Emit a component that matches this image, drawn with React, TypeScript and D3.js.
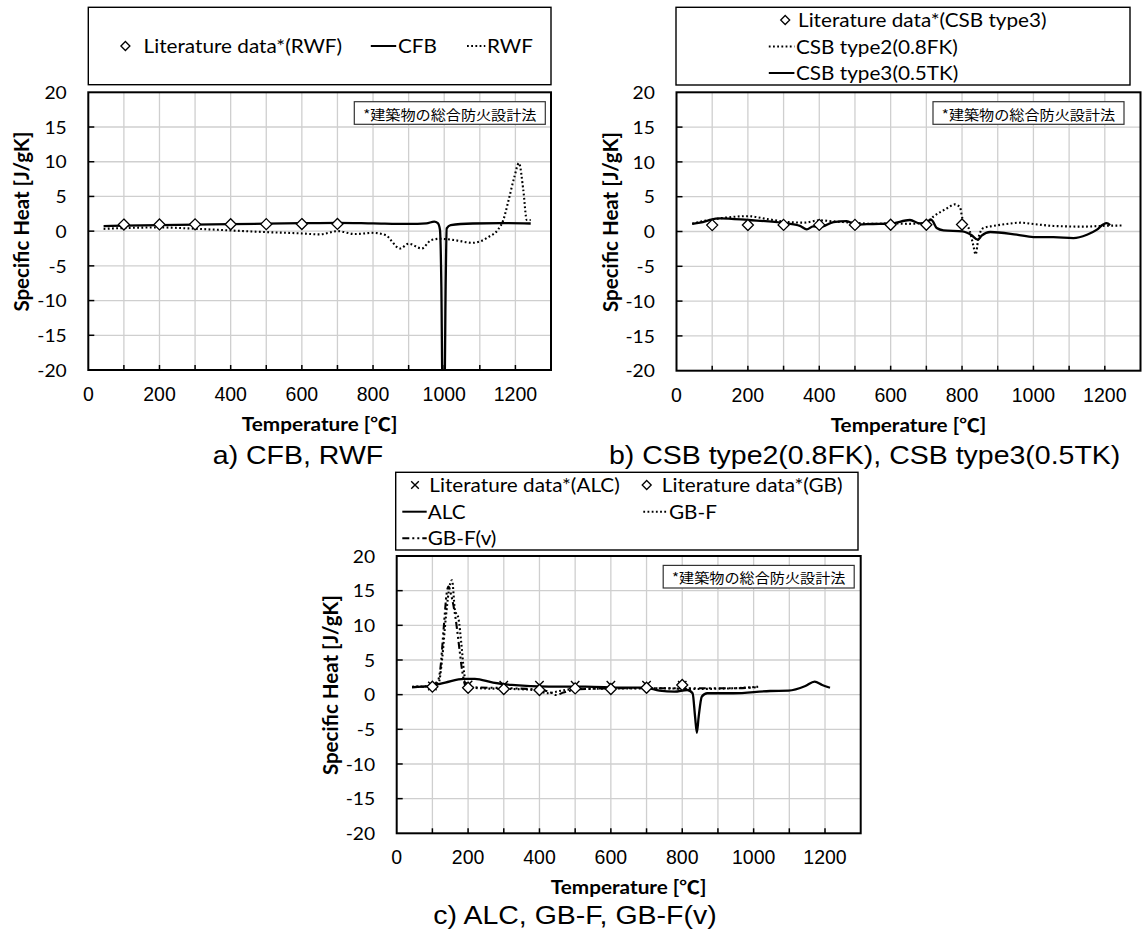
import { useRef, useEffect } from "react";
import * as d3 from "d3";

// ---- data ----
const xTickLabels = [0, 200, 400, 600, 800, 1000, 1200];
const yTickLabels = [20, 15, 10, 5, 0, -5, -10, -15, -20];

// a) CFB, RWF
const litRwfT = [100, 200, 300, 400, 500, 600, 700];
const litRwfCp = [0.95, 0.97, 0.98, 1.0, 1.01, 1.02, 1.04];
const cfb: [number, number][] = [
  [43, 0.73], [100, 0.8], [200, 0.88], [300, 0.95], [400, 1.0], [500, 1.08], [600, 1.15],
  [700, 1.2], [800, 1.12], [900, 1.04], [950, 1.12], [972, 1.37], [982, 1.15], [988, 0.2],
  [992, -8], [995, -22], [1001, -22], [1004, -8], [1007, 0.4], [1018, 0.87], [1080, 1.1],
  [1160, 1.15], [1243, 1.1],
];
const rwf: [number, number][] = [
  [43, 0.33], [100, 0.45], [200, 0.53], [300, 0.35], [400, 0.1], [500, -0.14], [600, -0.33],
  [650, -0.47], [700, 0.0], [750, -0.42], [800, -0.24], [835, -0.57], [876, -2.5], [900, -1.8],
  [937, -2.5], [963, -1.3], [988, -1.1], [1030, -1.3], [1079, -1.68], [1100, -1.5], [1125, -0.82],
  [1150, 0.14], [1166, 1.6], [1181, 4.5], [1197, 7.8], [1210, 9.8], [1222, 6.0], [1232, 1.6],
  [1243, 1.6],
];

// b) CSB type2, CSB type3
const litCsbT = [100, 200, 300, 400, 500, 600, 700, 800];
const litCsbCp = [0.92, 0.93, 0.95, 0.95, 0.95, 0.97, 0.97, 1.0];
const csb2: [number, number][] = [
  [44, 1.1], [66, 1.4], [122, 1.9], [201, 2.2], [253, 1.8], [302, 1.42], [356, 1.27], [401, 1.6],
  [440, 1.45], [500, 1.25], [550, 1.1], [600, 1.17], [650, 1.1], [701, 1.27], [719, 2.1],
  [757, 3.3], [780, 3.9], [794, 3.5], [801, 1.9], [822, 0.02], [832, -2.1], [838, -3.3],
  [846, -0.94], [860, 0.5], [888, 0.8], [925, 1.08], [963, 1.27], [1000, 1.08], [1056, 0.8],
  [1140, 0.7], [1187, 0.8], [1252, 0.86],
];
const csb3: [number, number][] = [
  [44, 1.08], [66, 1.27], [110, 1.85], [122, 1.9], [201, 1.65], [302, 1.2], [346, 0.8],
  [365, 0.3], [383, 0.75], [402, 0.65], [440, 1.35], [477, 1.5], [500, 1.0], [551, 1.08],
  [600, 1.15], [654, 1.65], [682, 1.17], [701, 1.3], [712, 1.75], [719, 1.4], [729, 0.5],
  [748, 0.17], [801, 0.02], [826, -0.5], [844, -1.17], [855, -0.6], [879, -0.07], [953, -0.46],
  [1000, -0.8], [1056, -0.8], [1112, -0.94], [1150, -0.46], [1178, 0.26], [1195, 1.0],
  [1205, 1.2], [1215, 0.9],
];

// c) ALC, GB-F, GB-F(v)
const litAlcT = [100, 200, 300, 400, 500, 600, 700, 800];
const litAlcCp = [1.25, 1.4, 1.35, 1.35, 1.35, 1.35, 1.35, 1.35];
const litGbT = [100, 200, 300, 400, 500, 600, 700, 800];
const litGbCp = [1.15, 1.0, 0.82, 0.67, 0.9, 0.82, 1.0, 1.4];
const alc: [number, number][] = [
  [43, 1.06], [95, 1.25], [136, 1.73], [188, 2.27], [219, 2.27], [270, 1.73], [322, 1.4],
  [426, 1.15], [529, 1.15], [633, 1.0], [695, 1.0], [736, 0.58], [778, 0.43], [814, 0.67],
  [829, 0.2], [836, -3.2], [841, -5.5], [846, -3.2], [855, -0.28], [870, 0.2], [943, 0.2],
  [1046, 0.53], [1098, 0.58], [1145, 1.25], [1171, 1.88], [1192, 1.4], [1214, 1.0],
];
const gbf: [number, number][] = [
  [43, 1.15], [95, 1.25], [117, 1.6], [127, 5], [138, 11.3], [148, 15.6], [155, 16.5],
  [163, 12.3], [173, 11], [181, 7.4], [189, 3.1], [199, 1.2], [240, 0.9], [322, 0.82],
  [384, 0.67], [426, 0.2], [447, 0.43], [488, 0.77], [592, 0.87], [736, 0.92], [840, 0.82],
  [943, 0.92], [1016, 1.15],
];
const gbfv: [number, number][] = [
  [43, 1.1], [95, 1.2], [112, 1.6], [122, 3.6], [132, 9.8], [140, 14.6], [145, 15.6],
  [152, 14.5], [165, 11], [176, 6.5], [183, 3.6], [194, 1.2], [219, 1.06], [322, 0.92],
  [405, 0.67], [426, 0.43], [447, -0.05], [467, 0.3], [509, 0.77], [633, 0.92], [736, 0.92],
  [840, 0.92], [943, 0.92], [1006, 1.06],
];

const NOTE = "*建築物の総合防火設計法";

// ---- styles ----
const SANS = "Lato, 'Noto Sans CJK JP', sans-serif";
const ARIAL = "'Liberation Sans', Arial, sans-serif";
const CJK = "'Noto Sans CJK JP', 'Noto Sans CJK SC', sans-serif";
const SX = 1.12; // the reference is stretched horizontally

const DASH: Record<string, string | null> = {
  solid: null,
  dot: "1.8 2.4",
  dashdotdot: "7 3 2 3 2 3",
};

type G = d3.Selection<SVGGElement, unknown, null, undefined>;

function txt(g: G, s: string, x: number, y: number, o: {
  size: number; font?: string; weight?: string; anchor?: string; sx?: number; rot?: number;
}) {
  g.append("text")
    .attr("transform", `translate(${x},${y}) rotate(${o.rot ?? 0}) scale(${o.sx ?? 1},1)`)
    .attr("text-anchor", o.anchor ?? "start")
    .attr("dominant-baseline", "central")
    .attr("font-family", o.font ?? SANS)
    .attr("font-size", o.size)
    .attr("font-weight", o.weight ?? "normal")
    .attr("fill", "#000")
    .text(s);
}

function marker(g: G, kind: string, x: number, y: number, r: number) {
  if (kind === "diamond") {
    g.append("path")
      .attr("d", `M${x},${y - r}L${x + r},${y}L${x},${y + r}L${x - r},${y}Z`)
      .attr("fill", "#fff").attr("stroke", "#000").attr("stroke-width", 1.3);
  } else {
    g.append("path")
      .attr("d", `M${x - r},${y - r}L${x + r},${y + r}M${x - r},${y + r}L${x + r},${y - r}`)
      .attr("fill", "none").attr("stroke", "#000").attr("stroke-width", 1.4);
  }
}

function legendLine(g: G, style: string, x1: number, x2: number, y: number) {
  const l = g.append("line").attr("x1", x1).attr("x2", x2).attr("y1", y).attr("y2", y)
    .attr("stroke", "#000").attr("stroke-width", 2);
  if (DASH[style]) l.attr("stroke-dasharray", DASH[style] as string);
}

interface Panel {
  id: string;
  left: number; top: number; width: number; height: number;
  caption: string; captionX: number; captionDy: number;
  noteRight: number;
  legend: { x: number; y: number; w: number; h: number };
  legendItems: { kind: string; style: string; x: number; x2?: number; y: number; tx: number; label: string }[];
  lines: { data: [number, number][]; style: string }[];
  points: { t: number[]; cp: number[]; kind: string }[];
}

const panels: Panel[] = [
  {
    id: "a", left: 88.3, top: 92.3, width: 462.7, height: 277.7,
    caption: "a) CFB, RWF", captionX: 298, captionDy: 86, noteRight: 545.3,
    legend: { x: 88.3, y: 7.3, w: 462.7, h: 77.4 },
    legendItems: [
      { kind: "diamond", style: "", x: 125.4, y: 46, tx: 143.6, label: "Literature data*(RWF)" },
      { kind: "line", style: "solid", x: 370.8, x2: 396.2, y: 46, tx: 398, label: "CFB" },
      { kind: "line", style: "dot", x: 467, x2: 485.3, y: 46, tx: 487, label: "RWF" },
    ],
    lines: [{ data: rwf, style: "dot" }, { data: cfb, style: "solid" }],
    points: [{ t: litRwfT, cp: litRwfCp, kind: "diamond" }],
  },
  {
    id: "b", left: 676.5, top: 92.3, width: 464, height: 278.4,
    caption: "b) CSB type2(0.8FK), CSB type3(0.5TK)", captionX: 864.6, captionDy: 85, noteRight: 1124,
    legend: { x: 676, y: 7.3, w: 454, h: 77.7 },
    legendItems: [
      { kind: "diamond", style: "", x: 785.2, y: 20, tx: 798, label: "Literature data*(CSB type3)" },
      { kind: "line", style: "dot", x: 768.8, x2: 794.4, y: 46.5, tx: 796, label: "CSB type2(0.8FK)" },
      { kind: "line", style: "solid", x: 768.8, x2: 794.4, y: 73, tx: 796, label: "CSB type3(0.5TK)" },
    ],
    lines: [{ data: csb2, style: "dot" }, { data: csb3, style: "solid" }],
    points: [{ t: litCsbT, cp: litCsbCp, kind: "diamond" }],
  },
  {
    id: "c", left: 396.7, top: 556, width: 464, height: 277.3,
    caption: "c) ALC, GB-F, GB-F(v)", captionX: 575, captionDy: 82.5, noteRight: 854.2,
    legend: { x: 395.7, y: 472.3, w: 462.3, h: 77.7 },
    legendItems: [
      { kind: "cross", style: "", x: 415, y: 485, tx: 429.3, label: "Literature data*(ALC)" },
      { kind: "diamond", style: "", x: 646.7, y: 485, tx: 661.8, label: "Literature data*(GB)" },
      { kind: "line", style: "solid", x: 402.3, x2: 426.7, y: 511.7, tx: 427.7, label: "ALC" },
      { kind: "line", style: "dot", x: 643.3, x2: 667.4, y: 511.7, tx: 669, label: "GB-F" },
      { kind: "line", style: "dashdotdot", x: 402.3, x2: 426.7, y: 538.3, tx: 427.7, label: "GB-F(v)" },
    ],
    lines: [{ data: gbf, style: "dot" }, { data: gbfv, style: "dashdotdot" }, { data: alc, style: "solid" }],
    points: [
      { t: litAlcT, cp: litAlcCp, kind: "cross" },
      { t: litGbT, cp: litGbCp, kind: "diamond" },
    ],
  },
];

function drawPanel(root: d3.Selection<SVGSVGElement, unknown, null, undefined>, p: Panel) {
  const g = root.append("g") as G;
  const x = d3.scaleLinear().domain([0, 1300]).range([p.left, p.left + p.width]);
  const y = d3.scaleLinear().domain([-20, 20]).range([p.top + p.height, p.top]);
  const bottom = p.top + p.height;

  // legend box
  g.append("rect")
    .attr("x", p.legend.x).attr("y", p.legend.y).attr("width", p.legend.w).attr("height", p.legend.h)
    .attr("fill", "#fff").attr("stroke", "#000").attr("stroke-width", 1.4);
  p.legendItems.forEach((it) => {
    if (it.kind === "line") legendLine(g, it.style, it.x, it.x2 as number, it.y);
    else marker(g, it.kind, it.x, it.y, it.kind === "cross" ? 3.8 : 4.5);
    txt(g, it.label, it.tx, it.y, { size: 18.5, sx: SX });
  });

  // grid
  const vGrid = d3.range(100, 1300, 100);
  const hGrid = d3.range(-15, 20, 5);
  g.append("g").selectAll("line").data(vGrid).join("line")
    .attr("x1", (d) => x(d)).attr("x2", (d) => x(d)).attr("y1", p.top).attr("y2", bottom)
    .attr("stroke", "#cfcfcf").attr("stroke-width", 1.3);
  g.append("g").selectAll("line").data(hGrid).join("line")
    .attr("x1", p.left).attr("x2", p.left + p.width).attr("y1", (d) => y(d)).attr("y2", (d) => y(d))
    .attr("stroke", "#cfcfcf").attr("stroke-width", 1.3);

  // ticks (inside)
  g.append("g").selectAll("line").data(vGrid).join("line")
    .attr("x1", (d) => x(d)).attr("x2", (d) => x(d)).attr("y1", bottom).attr("y2", bottom - 5)
    .attr("stroke", "#000").attr("stroke-width", 1.5);
  g.append("g").selectAll("line").data(hGrid).join("line")
    .attr("x1", p.left).attr("x2", p.left + 6).attr("y1", (d) => y(d)).attr("y2", (d) => y(d))
    .attr("stroke", "#000").attr("stroke-width", 1.5);

  // annotation
  const nw = 191, nh = 22.6, ny = p.top + 9.4;
  g.append("rect").attr("x", p.noteRight - nw).attr("y", ny).attr("width", nw).attr("height", nh)
    .attr("fill", "#fff").attr("stroke", "#333").attr("stroke-width", 1.2);
  txt(g, NOTE, p.noteRight - nw / 2, ny + nh / 2 + 0.5, { size: 13.5, font: CJK, anchor: "middle", sx: SX });

  // series
  const clipId = `clip-${p.id}`;
  g.append("clipPath").attr("id", clipId).append("rect")
    .attr("x", p.left).attr("y", p.top).attr("width", p.width).attr("height", p.height);
  const line = d3.line<[number, number]>().x((d) => x(d[0])).y((d) => y(d[1])).curve(d3.curveMonotoneX);
  const sg = g.append("g").attr("clip-path", `url(#${clipId})`);
  p.lines.forEach((s) => {
    const path = sg.append("path").attr("d", line(s.data) as string)
      .attr("fill", "none").attr("stroke", "#000").attr("stroke-width", s.style === "solid" ? 2.3 : 2.1)
      .attr("stroke-linejoin", "round");
    if (DASH[s.style]) path.attr("stroke-dasharray", DASH[s.style] as string);
  });
  p.points.forEach((s) => {
    s.t.forEach((t, i) => marker(sg as G, s.kind, x(t), y(s.cp[i]), s.kind === "cross" ? 4.2 : 5.5));
  });

  // frame
  g.append("rect").attr("x", p.left).attr("y", p.top).attr("width", p.width).attr("height", p.height)
    .attr("fill", "none").attr("stroke", "#000").attr("stroke-width", 2);

  // tick labels
  yTickLabels.forEach((v) => txt(g, String(v), p.left - 21.6, y(v), { size: 17.5, anchor: "end", sx: 1.1 }));
  xTickLabels.forEach((v) => txt(g, String(v), x(v), bottom + 24, { size: 19.5, font: ARIAL, anchor: "middle" }));

  // axis titles
  txt(g, "Temperature [℃]", p.left + p.width / 2, bottom + 54, { size: 18.5, weight: "bold", anchor: "middle", sx: SX });
  txt(g, "Specific Heat [J/gK]", p.left - 67, p.top + p.height / 2 - 9.5, { size: 20.5, weight: "bold", anchor: "middle", rot: -90 });

  // caption
  txt(g, p.caption, p.captionX, bottom + p.captionDy, { size: 25, font: ARIAL, anchor: "middle", sx: 1.14 });
}

export default function App() {
  const ref = useRef<SVGSVGElement>(null);
  useEffect(() => {
    const svg = d3.select(ref.current as SVGSVGElement);
    svg.selectAll("*").remove();
    svg.append("rect").attr("width", 1142).attr("height", 931).attr("fill", "#fff");
    panels.forEach((p) => drawPanel(svg, p));
  }, []);
  return (
    <svg
      ref={ref}
      width={1142}
      height={931}
      style={{ position: "absolute", left: 0, top: 0, display: "block" }}
    />
  );
}
